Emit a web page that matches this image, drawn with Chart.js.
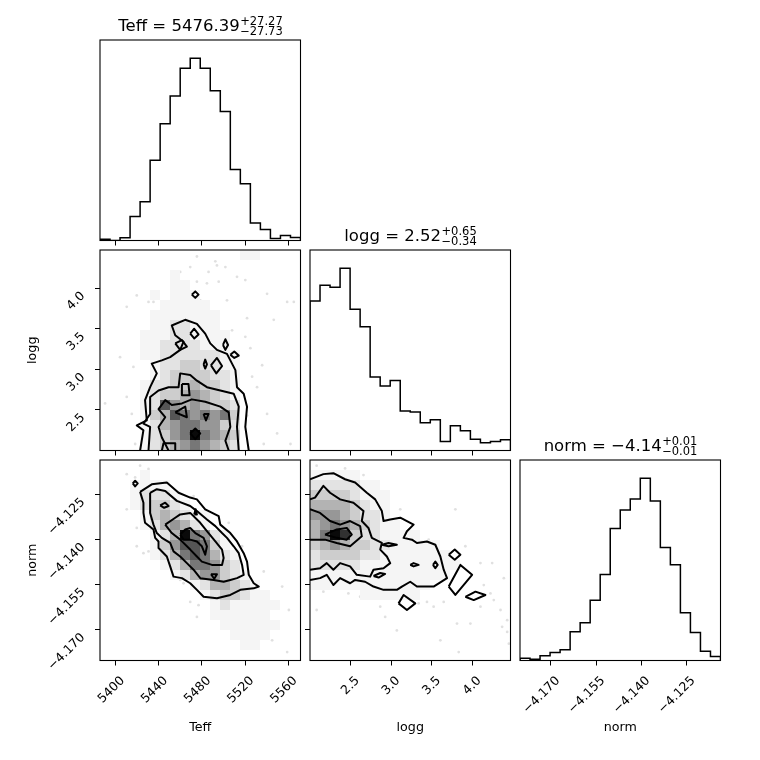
<!DOCTYPE html>
<html>
<head>
<meta charset="utf-8">
<script src="https://cdn.jsdelivr.net/npm/chart.js@4.4.0/dist/chart.umd.min.js"></script>
<style>
html,body{margin:0;padding:0;background:#fff;}
#wrap{position:relative;width:760px;height:760px;background:#fff;}
#wrap canvas{position:absolute;left:0;top:0;}
</style>
</head>
<body>
<div id="wrap"></div>
<script>
// ---------------- DATA ----------------
const PARAM_NAMES = ['Teff', 'logg', 'norm'];
const TITLE_VALUES = ['5476.39', '2.52', '\u22124.14'];
const TITLE_PLUS = ['27.27', '0.65', '0.01'];
const TITLE_MINUS = ['27.73', '0.34', '0.01'];

const TEFF_RANGE = [5385.4, 5571.4];
const LOGG_RANGE = [2.0, 4.47];
const NORM_RANGE = [-4.1803, -4.1136];

const TEFF_TICKS = [5400, 5440, 5480, 5520, 5560];
const TEFF_TICK_LABELS = ['5400', '5440', '5480', '5520', '5560'];
const LOGG_TICKS = [2.5, 3.0, 3.5, 4.0];
const LOGG_TICK_LABELS = ['2.5', '3.0', '3.5', '4.0'];
const NORM_TICKS = [-4.170, -4.155, -4.140, -4.125];
const NORM_TICK_LABELS = ['\u22124.170', '\u22124.155', '\u22124.140', '\u22124.125'];

// 1D histograms (20 bins over each range)
const TEFF_HIST = [4, 0, 8, 72, 116, 240, 349, 432, 515, 545, 515, 448, 386, 212, 170, 52, 33, 6, 15, 9];
const LOGG_HIST = [447, 494, 488, 545, 422, 370, 220, 193, 209, 118, 115, 83, 92, 27, 74, 59, 34, 23, 27, 32];
const NORM_HIST = [7, 4, 14, 24, 32, 86, 113, 180, 257, 395, 450, 483, 545, 477, 338, 286, 143, 84, 28, 12];

// 2D density grids (20x20, top row = highest y value), darkness 0-9
const TL_DENSITY = [
  "00000000000000110000",
  "00000000000000000000",
  "00000001000000000000",
  "00000001100000000000",
  "00000101110000000000",
  "00000011111000000000",
  "00000111111100000000",
  "00000112211100000000",
  "00001112211110000000",
  "00001122221110000000",
  "00001122222211000000",
  "00000122332211000000",
  "00000123333221000000",
  "00001223343321000000",
  "00001233454321000000",
  "00001275454332000000",
  "00001347656563000000",
  "00001245665532000000",
  "00001235696543000000",
  "00001234565432000000"
];
const TN_DENSITY = [
  "00000000000000000000",
  "00001000000000000000",
  "00011110000000000000",
  "00012221000000000000",
  "00012332100000000000",
  "00001343211000000000",
  "00001245421000000000",
  "00000124965210000000",
  "00000135776310000000",
  "00000124676421000000",
  "00000012466532000000",
  "00000001245532100000",
  "00000000012443210000",
  "00000000001233211000",
  "00000000000121111100",
  "00000000000111111000",
  "00000000000011111100",
  "00000000000001111000",
  "00000000000000110000",
  "00000000000000000000"
];
const LN_DENSITY = [
  "00000000000000000000",
  "11111000000000000000",
  "22222110000000000000",
  "33332111000000000000",
  "44443211000000000000",
  "55543221000000000000",
  "45654321100000000000",
  "46983221111000000000",
  "34543322111110000000",
  "23333221111111000000",
  "22222111111111100000",
  "11111111111111000000",
  "11111111111100000000",
  "00000111111000000000",
  "00000000000000000000",
  "00000000000000000000",
  "00000000000000000000",
  "00000000000000000000",
  "00000000000000000000",
  "00000000000000000000"
];

// contour lines: Teff vs logg
const TL_CONTOURS = [
  [[5422.6,2.00],[5425.7,2.25],[5419.5,2.31],[5428.8,2.37],[5427.2,2.62],[5431.9,2.78],[5438.1,2.95],[5433.4,3.07],[5442.7,3.11],[5450.5,3.15],[5459.8,3.24],[5462.9,3.34],[5455.2,3.42],[5452.0,3.54],[5464.4,3.61],[5475.3,3.56],[5483.0,3.44],[5487.7,3.32],[5493.9,3.24],[5503.2,3.19],[5511.0,2.99],[5512.5,2.78],[5518.7,2.70],[5521.8,2.54],[5520.2,2.29],[5523.4,2.00]],
  [[5430.4,2.00],[5431.9,2.29],[5425.7,2.33],[5431.9,2.45],[5431.9,2.66],[5439.7,2.74],[5449.0,2.78],[5458.3,2.78],[5459.8,2.95],[5469.1,2.93],[5475.3,2.86],[5484.6,2.78],[5497.0,2.74],[5509.4,2.70],[5514.1,2.54],[5512.5,2.29],[5514.1,2.00]],
  [[5449.0,2.00],[5442.8,2.16],[5439.7,2.29],[5445.9,2.41],[5439.7,2.51],[5445.9,2.62],[5452.0,2.56],[5461.4,2.58],[5470.6,2.63],[5483.0,2.60],[5497.0,2.54],[5504.8,2.47],[5506.3,2.29],[5501.7,2.12],[5504.8,2.00]],
  [[5469.1,2.21],[5473.8,2.27],[5478.4,2.21],[5473.8,2.14],[5469.1,2.21]],
  [[5455.2,2.47],[5464.5,2.54],[5466.0,2.41],[5455.2,2.47]],
  [[5481.5,2.45],[5486.1,2.45],[5483.7,2.37],[5481.5,2.45]],
  [[5470.6,3.92],[5473.8,3.96],[5476.8,3.92],[5473.8,3.88],[5470.6,3.92]],
  [[5455.2,3.32],[5461.4,3.36],[5466.0,3.28],[5459.8,3.24],[5455.2,3.32]],
  [[5469.1,3.44],[5472.8,3.50],[5476.8,3.43],[5472.8,3.38],[5469.1,3.44]],
  [[5499.5,3.30],[5501.7,3.37],[5504.2,3.30],[5501.7,3.24],[5499.5,3.30]],
  [[5506.3,3.18],[5510.0,3.22],[5514.1,3.17],[5510.0,3.14],[5506.3,3.18]],
  [[5481.5,3.06],[5483.0,3.12],[5484.6,3.06],[5483.0,3.01],[5481.5,3.06]],
  [[5488.3,3.05],[5493.9,3.14],[5498.6,3.04],[5493.3,2.95],[5488.3,3.05]],
  [[5461.4,2.82],[5467.5,2.82],[5468.5,2.68],[5461.4,2.68],[5461.4,2.82]],
  [[5442.8,2.00],[5444.3,2.09],[5455.2,2.09],[5455.2,2.00]]
];
// contour lines: Teff vs norm
const TN_CONTOURS = [
  [[5422.6,-4.1242],[5433.4,-4.1217],[5447.4,-4.1211],[5458.3,-4.1245],[5469.1,-4.1261],[5475.3,-4.1267],[5483.0,-4.1300],[5495.5,-4.1323],[5497.0,-4.1351],[5506.3,-4.1379],[5512.5,-4.1407],[5518.7,-4.1446],[5521.8,-4.1474],[5523.4,-4.1518],[5528.0,-4.1546],[5532.7,-4.1557],[5528.0,-4.1563],[5515.6,-4.1568],[5506.3,-4.1585],[5493.9,-4.1596],[5481.5,-4.1591],[5475.3,-4.1568],[5469.1,-4.1546],[5461.4,-4.1529],[5453.6,-4.1524],[5450.5,-4.1490],[5447.4,-4.1457],[5439.7,-4.1429],[5439.7,-4.1407],[5436.6,-4.1395],[5435.0,-4.1367],[5427.2,-4.1345],[5425.7,-4.1312],[5425.7,-4.1278],[5422.6,-4.1242]],
  [[5431.9,-4.1245],[5438.1,-4.1233],[5445.9,-4.1239],[5456.7,-4.1272],[5469.1,-4.1289],[5475.3,-4.1306],[5484.6,-4.1334],[5492.4,-4.1356],[5498.6,-4.1379],[5503.2,-4.1395],[5509.4,-4.1423],[5514.1,-4.1446],[5517.2,-4.1485],[5518.7,-4.1518],[5512.5,-4.1529],[5506.3,-4.1535],[5500.1,-4.1541],[5490.8,-4.1535],[5478.4,-4.1529],[5472.2,-4.1501],[5466.0,-4.1479],[5459.8,-4.1457],[5453.6,-4.1440],[5450.5,-4.1412],[5442.8,-4.1395],[5438.1,-4.1379],[5435.0,-4.1351],[5431.9,-4.1312],[5431.9,-4.1267],[5431.9,-4.1245]],
  [[5445.9,-4.1351],[5455.2,-4.1328],[5459.8,-4.1317],[5469.1,-4.1312],[5478.4,-4.1345],[5484.6,-4.1373],[5492.4,-4.1407],[5498.6,-4.1434],[5500.1,-4.1462],[5498.6,-4.1485],[5489.2,-4.1485],[5479.9,-4.1474],[5475.3,-4.1457],[5469.1,-4.1434],[5459.8,-4.1401],[5452.0,-4.1379],[5445.9,-4.1351]],
  [[5459.8,-4.1384],[5464.5,-4.1367],[5469.1,-4.1362],[5473.8,-4.1379],[5481.5,-4.1395],[5484.6,-4.1423],[5483.0,-4.1451],[5479.9,-4.1423],[5475.3,-4.1407],[5469.1,-4.1401],[5462.9,-4.1401],[5459.8,-4.1384]],
  [[5415.8,-4.1214],[5418.0,-4.1205],[5420.4,-4.1214],[5418.0,-4.1224],[5415.8,-4.1214]],
  [[5441.2,-4.1287],[5445.9,-4.1278],[5449.0,-4.1289],[5444.9,-4.1295],[5441.2,-4.1287]],
  [[5472.8,-4.1317],[5474.1,-4.1300],[5475.3,-4.1317],[5472.8,-4.1317]],
  [[5488.3,-4.1516],[5493.9,-4.1516],[5491.4,-4.1531],[5488.3,-4.1516]]
];
// contour lines: logg vs norm
const LN_CONTOURS = [
  [[2.000,-4.1200],[2.165,-4.1183],[2.288,-4.1180],[2.432,-4.1200],[2.556,-4.1211],[2.700,-4.1245],[2.803,-4.1267],[2.885,-4.1306],[2.906,-4.1339],[2.988,-4.1334],[3.112,-4.1328],[3.276,-4.1351],[3.194,-4.1373],[3.153,-4.1395],[3.256,-4.1401],[3.317,-4.1412],[3.441,-4.1407],[3.544,-4.1418],[3.606,-4.1457],[3.647,-4.1501],[3.688,-4.1529],[3.523,-4.1557],[3.317,-4.1557],[3.235,-4.1541],[3.132,-4.1557],[3.070,-4.1568],[2.906,-4.1568],[2.782,-4.1557],[2.679,-4.1541],[2.556,-4.1535],[2.494,-4.1546],[2.371,-4.1529],[2.288,-4.1552],[2.206,-4.1518],[2.124,-4.1529],[2.000,-4.1535]],
  [[2.000,-4.1267],[2.062,-4.1261],[2.165,-4.1222],[2.247,-4.1245],[2.371,-4.1267],[2.535,-4.1278],[2.659,-4.1306],[2.638,-4.1339],[2.720,-4.1362],[2.762,-4.1395],[2.885,-4.1412],[2.865,-4.1434],[2.947,-4.1457],[2.988,-4.1479],[2.906,-4.1496],[2.782,-4.1501],[2.741,-4.1524],[2.576,-4.1518],[2.494,-4.1490],[2.371,-4.1479],[2.288,-4.1501],[2.206,-4.1479],[2.124,-4.1496],[2.000,-4.1501]],
  [[2.000,-4.1300],[2.124,-4.1312],[2.247,-4.1339],[2.371,-4.1351],[2.494,-4.1339],[2.618,-4.1356],[2.638,-4.1390],[2.494,-4.1423],[2.329,-4.1412],[2.185,-4.1401],[2.000,-4.1401]],
  [[2.185,-4.1384],[2.329,-4.1367],[2.453,-4.1362],[2.515,-4.1384],[2.453,-4.1401],[2.329,-4.1395],[2.185,-4.1384]],
  [[2.885,-4.1418],[2.967,-4.1412],[3.070,-4.1418],[2.967,-4.1423],[2.885,-4.1418]],
  [[2.782,-4.1522],[2.865,-4.1512],[2.926,-4.1515],[2.845,-4.1527],[2.782,-4.1522]],
  [[3.235,-4.1485],[3.276,-4.1479],[3.338,-4.1485],[3.276,-4.1490],[3.235,-4.1485]],
  [[3.515,-4.1485],[3.544,-4.1474],[3.573,-4.1485],[3.544,-4.1496],[3.515,-4.1485]],
  [[3.709,-4.1451],[3.783,-4.1434],[3.853,-4.1451],[3.783,-4.1468],[3.709,-4.1451]],
  [[3.709,-4.1557],[3.853,-4.1485],[3.997,-4.1518],[3.791,-4.1585],[3.709,-4.1557]],
  [[3.914,-4.1591],[4.038,-4.1574],[4.161,-4.1585],[4.017,-4.1602],[3.914,-4.1591]],
  [[3.091,-4.1613],[3.153,-4.1585],[3.297,-4.1613],[3.194,-4.1635],[3.091,-4.1613]]
];

// outlying samples
const TL_POINTS = [[5528.0,4.42],[5521.8,4.41],[5531.1,4.42],[5517.2,4.39],[5492.4,4.33],[5493.9,4.28],[5501.7,4.26],[5459.8,4.20],[5469.1,4.26],[5475.3,4.39],[5486.1,4.20],[5512.5,4.14],[5520.2,4.10],[5475.3,4.08],[5484.6,4.06],[5495.5,4.08],[5453.6,4.06],[5456.7,3.98],[5452.0,3.89],[5419.5,3.91],[5410.2,3.77],[5430.4,3.83],[5435.0,3.83],[5478.4,3.85],[5503.2,3.85],[5540.4,3.93],[5559.0,3.83],[5565.2,3.83],[5546.6,3.61],[5521.8,3.63],[5507.9,3.48],[5520.2,3.40],[5524.9,3.26],[5535.8,3.05],[5526.5,2.91],[5531.1,2.78],[5540.4,2.45],[5549.7,2.21],[5562.1,2.08],[5537.3,2.08],[5521.8,2.43],[5390.1,2.58],[5410.2,2.66],[5414.9,2.45],[5418.0,2.08],[5404.0,3.15],[5431.9,3.30],[5435.0,3.38],[5416.4,3.03]];
const TN_POINTS = [[5422.6,-4.1155],[5410.2,-4.1183],[5418.0,-4.1194],[5430.4,-4.1166],[5416.4,-4.1278],[5410.2,-4.1300],[5419.5,-4.1362],[5419.5,-4.1423],[5425.7,-4.1446],[5430.4,-4.1440],[5435.0,-4.1401],[5472.2,-4.1256],[5504.8,-4.1345],[5517.2,-4.1423],[5537.3,-4.1507],[5554.4,-4.1557],[5560.6,-4.1635],[5469.1,-4.1608],[5476.8,-4.1619],[5475.3,-4.1658],[5490.8,-4.1630],[5500.1,-4.1613],[5509.4,-4.1602],[5512.5,-4.1658],[5518.7,-4.1669],[5517.2,-4.1708],[5524.9,-4.1725],[5531.1,-4.1753],[5540.4,-4.1725],[5545.1,-4.1736],[5559.0,-4.1775],[5521.8,-4.1647],[5532.7,-4.1580],[5540.4,-4.1591],[5462.9,-4.1546],[5459.8,-4.1535],[5529.6,-4.1624]];
const LN_POINTS = [[2.082,-4.1155],[2.432,-4.1164],[2.597,-4.1186],[2.659,-4.1186],[2.741,-4.1211],[2.967,-4.1312],[3.112,-4.1300],[3.791,-4.1300],[3.462,-4.1401],[3.914,-4.1423],[4.100,-4.1479],[4.244,-4.1479],[4.388,-4.1529],[4.141,-4.1552],[4.223,-4.1580],[4.264,-4.1602],[4.347,-4.1635],[4.100,-4.1624],[3.976,-4.1680],[3.606,-4.1736],[3.832,-4.1775],[4.429,-4.1708],[4.450,-4.1747],[4.429,-4.1669],[3.070,-4.1703],[2.926,-4.1658],[2.865,-4.1624],[2.082,-4.1635],[2.165,-4.1574],[2.473,-4.1580],[2.618,-4.1591],[3.338,-4.1613],[3.441,-4.1608],[3.523,-4.1624],[3.647,-4.1608],[3.811,-4.1680],[4.367,-4.1691]];

// ---------------- LAYOUT / STYLE ----------------
const W = 760, H = 760;
const PANEL_LEFT = [100, 310, 520];
const PANEL_TOP = [40, 250, 460];
const PANEL = 200.5;
const AX_W = 100, AX_H = 80;
const FONT = 'DejaVu Sans';

const RANGES = [TEFF_RANGE, LOGG_RANGE, NORM_RANGE];
const TICKS = [TEFF_TICKS, LOGG_TICKS, NORM_TICKS];
const TICK_LABELS = [TEFF_TICK_LABELS, LOGG_TICK_LABELS, NORM_TICK_LABELS];
const HISTS = [TEFF_HIST, LOGG_HIST, NORM_HIST];

// ---------------- PLUGINS ----------------
const framePlugin = {
  id: 'frame',
  afterDatasetsDraw(chart) {
    const a = chart.chartArea, ctx = chart.ctx;
    ctx.save();
    ctx.strokeStyle = '#000';
    ctx.lineWidth = 1.1;
    ctx.strokeRect(a.left, a.top, a.right - a.left, a.bottom - a.top);
    ctx.restore();
  }
};

function cellGray(d) {
  const t = d / 9;
  const g = Math.round(255 * (1 - 0.96 * Math.pow(t, 1.45)));
  return 'rgb(' + g + ',' + g + ',' + g + ')';
}

const densityPlugin = {
  id: 'density',
  afterDatasetDraw(chart, args, opts) {
    if (args.index !== 0 || !opts || !opts.grid) return;
    const xs = chart.scales.x, ys = chart.scales.y;
    const [x0, x1] = opts.xRange, [y0, y1] = opts.yRange;
    const n = opts.grid.length;
    const dx = (x1 - x0) / n, dy = (y1 - y0) / n;
    const ctx = chart.ctx, a = chart.chartArea;
    ctx.save();
    ctx.beginPath();
    ctx.rect(a.left, a.top, a.right - a.left, a.bottom - a.top);
    ctx.clip();
    opts.grid.forEach((row, r) => {
      for (let c = 0; c < row.length; c++) {
        const d = parseInt(row[c], 10);
        if (!d) continue;
        const px0 = Math.round(xs.getPixelForValue(x0 + c * dx));
        const px1 = Math.round(xs.getPixelForValue(x0 + (c + 1) * dx));
        const py0 = Math.round(ys.getPixelForValue(y1 - r * dy));
        const py1 = Math.round(ys.getPixelForValue(y1 - (r + 1) * dy));
        ctx.fillStyle = cellGray(d);
        ctx.fillRect(px0, py0, px1 - px0, py1 - py0);
      }
    });
    ctx.restore();
  }
};

const titlePlugin = {
  id: 'cornerTitle',
  afterDraw(chart, args, opts) {
    if (!opts || !opts.label) return;
    const a = chart.chartArea, ctx = chart.ctx;
    const main = opts.label + ' = ' + opts.value;
    const sup = '+' + opts.plus, sub = '\u2212' + opts.minus;
    ctx.save();
    ctx.fillStyle = '#000';
    ctx.textBaseline = 'alphabetic';
    ctx.textAlign = 'left';
    ctx.font = '16.5px "' + FONT + '"';
    const wMain = ctx.measureText(main).width;
    ctx.font = '11.5px "' + FONT + '"';
    const wScript = Math.max(ctx.measureText(sup).width, ctx.measureText(sub).width);
    const cx = (a.left + a.right) / 2;
    const x = cx - (wMain + wScript) / 2;
    const base = a.top - 9.3;
    ctx.font = '16.5px "' + FONT + '"';
    ctx.fillText(main, x, base);
    ctx.font = '11.5px "' + FONT + '"';
    ctx.fillText(sup, x + wMain + 0.5, base - 5.6);
    ctx.fillText(sub, x + wMain + 0.5, base + 4.4);
    ctx.restore();
  }
};

// ---------------- HELPERS ----------------
function pts(pairs) { return pairs.map(p => ({x: p[0], y: p[1]})); }

function xAxis(k, showLabels, title) {
  const ticks = TICKS[k], labels = TICK_LABELS[k];
  return {
    type: 'linear', position: 'bottom', min: RANGES[k][0], max: RANGES[k][1],
    afterBuildTicks: s => { s.ticks = ticks.map(v => ({value: v})); },
    afterFit: s => { s.height = AX_H; },
    ticks: {display: showLabels, autoSkip: false, minRotation: 45, maxRotation: 45, padding: 8, labelOffset: 7,
      color: '#000', font: {family: FONT, size: 12.5}, callback: (v, i) => labels[i]},
    grid: {display: true, drawOnChartArea: false, drawTicks: true, tickLength: 5, color: '#000', lineWidth: 1},
    border: {display: false},
    title: {display: !!title, text: title || '', color: '#000', font: {family: FONT, size: 12.7}, padding: {top: 0, bottom: 5.4}}
  };
}
function yAxis(k, showLabels, title) {
  const ticks = TICKS[k], labels = TICK_LABELS[k];
  return {
    type: 'linear', position: 'left', min: RANGES[k][0], max: RANGES[k][1],
    afterBuildTicks: s => { s.ticks = ticks.map(v => ({value: v})); },
    afterFit: s => { s.width = AX_W; },
    ticks: {display: showLabels, autoSkip: false, minRotation: 45, maxRotation: 45, padding: 12, labelOffset: 6,
      color: '#000', font: {family: FONT, size: 12.5}, callback: (v, i) => labels[i]},
    grid: {display: true, drawOnChartArea: false, drawTicks: true, tickLength: 5, color: '#000', lineWidth: 1},
    border: {display: false},
    title: {display: !!title, text: title || '', color: '#000', font: {family: FONT, size: 12.7}, padding: {top: 25.4, bottom: 0}}
  };
}
function histYAxis(hist) {
  return {
    type: 'linear', position: 'left', min: 0, max: 1.1 * Math.max(...hist),
    afterFit: s => { s.width = AX_W; },
    ticks: {display: false}, grid: {display: false}, border: {display: false}
  };
}
function padFor(row, col) {
  return {left: PANEL_LEFT[col] - AX_W, top: PANEL_TOP[row],
    right: W - PANEL_LEFT[col] - PANEL, bottom: H - PANEL_TOP[row] - PANEL - AX_H};
}
function makeCanvas() {
  const c = document.createElement('canvas');
  c.width = W; c.height = H;
  c.style.width = W + 'px'; c.style.height = H + 'px';
  document.getElementById('wrap').appendChild(c);
  return c;
}
const baseOpts = {responsive: false, animation: false, events: [], devicePixelRatio: 1};

function histChart(k) {
  const hist = HISTS[k], r = RANGES[k];
  const bw = (r[1] - r[0]) / hist.length;
  const data = [{x: r[0], y: 0}];
  hist.forEach((v, i) => data.push({x: r[0] + i * bw, y: v}));
  data.push({x: r[1], y: hist[hist.length - 1]});
  data.push({x: r[1], y: 0});
  const last = (k === 2);
  new Chart(makeCanvas(), {
    type: 'line',
    data: {datasets: [{data, stepped: 'before', borderColor: '#000', borderWidth: 1.5, pointRadius: 0, fill: false, tension: 0}]},
    options: Object.assign({}, baseOpts, {
      layout: {padding: padFor(k, k)},
      scales: {x: xAxis(k, last, last ? PARAM_NAMES[k] : ''), y: histYAxis(hist)},
      plugins: {legend: {display: false}, tooltip: {enabled: false}, title: {display: false},
        cornerTitle: {label: PARAM_NAMES[k], value: TITLE_VALUES[k], plus: TITLE_PLUS[k], minus: TITLE_MINUS[k]}}
    }),
    plugins: [framePlugin, titlePlugin]
  });
}

function pairChart(row, col, density, contours, points) {
  const datasets = [{
    data: pts(points), showLine: false, pointRadius: 1.4, pointBorderWidth: 0,
    pointBackgroundColor: 'rgba(0,0,0,0.12)', order: 10
  }];
  contours.forEach(c => datasets.push({
    data: pts(c), showLine: true, borderColor: '#000', borderWidth: 2, pointRadius: 0,
    fill: false, tension: 0, order: 0, borderJoinStyle: 'round'
  }));
  const bottom = (row === 2), left = (col === 0);
  new Chart(makeCanvas(), {
    type: 'line',
    data: {datasets},
    options: Object.assign({}, baseOpts, {
      layout: {padding: padFor(row, col)},
      scales: {x: xAxis(col, bottom, bottom ? PARAM_NAMES[col] : ''), y: yAxis(row, left, left ? PARAM_NAMES[row] : '')},
      plugins: {legend: {display: false}, tooltip: {enabled: false},
        density: {grid: density, xRange: RANGES[col], yRange: RANGES[row]}}
    }),
    plugins: [densityPlugin, framePlugin]
  });
}

histChart(0);
histChart(1);
histChart(2);
pairChart(1, 0, TL_DENSITY, TL_CONTOURS, TL_POINTS);
pairChart(2, 0, TN_DENSITY, TN_CONTOURS, TN_POINTS);
pairChart(2, 1, LN_DENSITY, LN_CONTOURS, LN_POINTS);
</script>
</body>
</html>
